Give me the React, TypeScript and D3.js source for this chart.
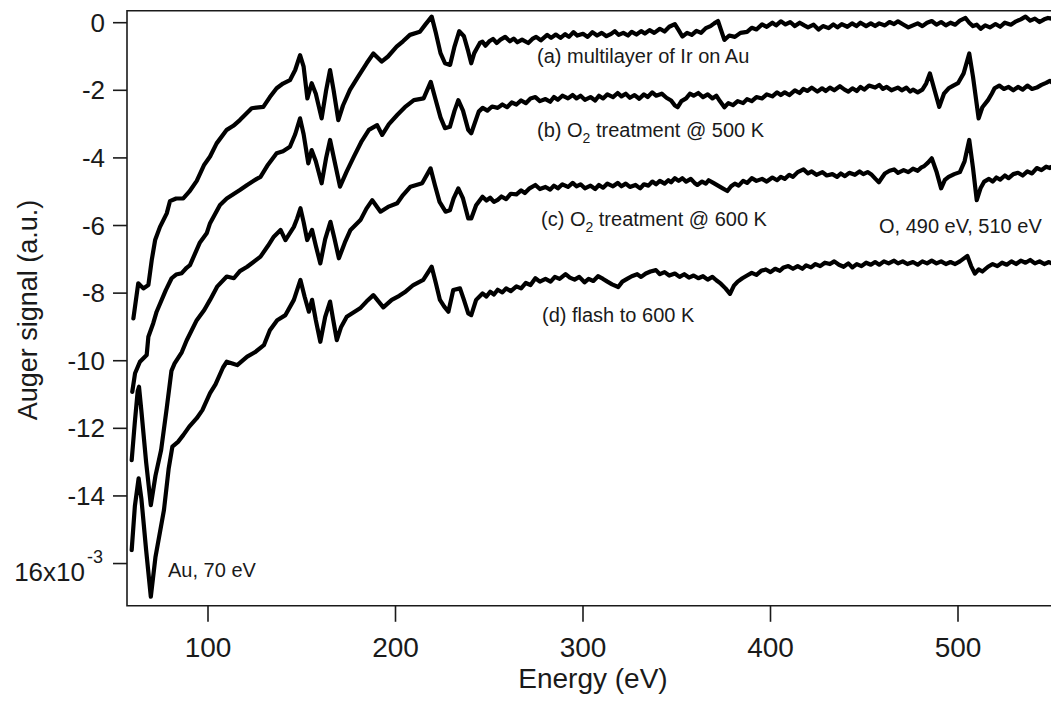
import React from 'react';
import * as d3 from 'd3';

// Auger spectra, energy (eV) vs signal (x1e-3 a.u.)
const curveA: [number, number][] = [
  [60.2,-8.75],[62.8,-7.71],[65.5,-7.86],[68.2,-7.76],[70,-7.02],[71.8,-6.43],[74.4,-6.04],[78,-5.64],[79.7,-5.28],[83,-5.2],[86.8,-5.2],[90,-5.0],[94,-4.68],[98,-4.2],[101.1,-3.96],[104.6,-3.57],[110,-3.17],[113.5,-3.05],[117,-2.88],[123.3,-2.53],[129.5,-2.49],[133,-2.2],[136.6,-1.94],[140,-1.8],[143.7,-1.7],[146.5,-1.4],[149.1,-0.96],[151,-1.3],[153,-2.24],[155.3,-1.79],[157.5,-2.1],[160.6,-2.83],[163,-2.0],[165.1,-1.4],[167,-2.0],[169.5,-2.88],[172,-2.45],[175.7,-1.99],[180,-1.6],[184.6,-1.2],[188.2,-0.91],[192.6,-1.15],[196,-1.0],[200.6,-0.71],[204,-0.55],[207.7,-0.36],[213,-0.27],[216,-0.05],[219.3,0.18],[221.5,-0.3],[224,-0.9],[226.4,-1.2],[229.1,-1.25],[231.5,-0.7],[234,-0.25],[236.5,-0.4],[238.8,-0.85],
  [240.4,-1.2],[242,-0.9],[243.5,-0.75],[245,-0.6],[246.4,-0.56],[248,-0.68],[250,-0.55],[252,-0.48],[254,-0.6],[256,-0.5],[258.5,-0.42],[261,-0.55],[263,-0.47],[265,-0.58],[267.5,-0.5],[270.8,-0.6],[273,-0.48],[275,-0.42],[277.5,-0.52],[280.9,-0.36],[283,-0.45],[285.5,-0.35],[288,-0.45],[290.5,-0.34],[292.5,-0.42],[294.9,-0.28],[297,-0.38],[300,-0.33],[302.5,-0.42],[305,-0.28],[307.5,-0.38],[310,-0.3],[312.5,-0.4],[315,-0.33],[317,-0.25],[319,-0.36],[321.5,-0.3],[324,-0.38],[326,-0.27],[328.5,-0.35],[331,-0.25],[333,-0.32],[335.5,-0.22],[338,-0.3],[341,-0.18],[343.5,-0.26],[346,-0.12],[349,-0.04],[351,-0.22],[353,-0.41],[355.5,-0.3],[358,-0.36],[360.5,-0.24],[363,-0.3],[365.5,-0.16],[368,-0.1],[370,-0.02],[372,0.05],[373.5,-0.2],[375.4,-0.51],[378,-0.38],[381,-0.42],[384,-0.3],[387.5,-0.27],[390,-0.15],[392.5,-0.2],[395.5,-0.05],[398,-0.12],[401,0.0],[403,-0.08],[405.5,0.04],[408,-0.05],[410.5,0.02],[413,-0.1],[415.6,0.0],[418,-0.08],[420,-0.14],[423,-0.06],[425.6,-0.2],[428,-0.1],[431,-0.16],[433.5,-0.05],[435.7,-0.14],[438,-0.04],[441,-0.12],[443.5,-0.02],[445.8,-0.1],[448,0.0],[451,-0.1],[453.5,-0.02],[455.8,-0.1],[458,-0.02],[461,-0.08],[463.5,0.02],[465.9,-0.04],[468,0.04],[471,-0.06],[473.5,-0.14],[476,-0.08],[478.5,-0.02],[481,-0.1],[483.5,0.0],[486,0.05],[488.5,-0.06],[491,0.02],[493.5,-0.08],[496,0.0],[498.5,-0.06],[501,0.06],[504,0.14],[506,0.0],[508,-0.1],[510,-0.06],[512.1,-0.18],[514.5,-0.08],[517,-0.14],[520,-0.04],[522.5,-0.12],[525,0.0],[528.2,-0.06],[531,0.04],[533.5,0.1],[536,0.18],[538.5,0.06],[541,0.12],[543.5,0.02],[546,0.1],[548,0.14],[550,0.12]
];

const curveB: [number, number][] = [
  [59.6,-10.92],[61.1,-10.37],[63.7,-10.03],[67.3,-9.83],[68.2,-9.29],[70.8,-8.89],[72.6,-8.55],[77.5,-7.91],[80.6,-7.56],[83,-7.45],[86,-7.41],[88.6,-7.25],[90.4,-7.17],[95.7,-6.5],[99.3,-6.23],[101.1,-5.93],[106.4,-5.39],[110,-5.2],[117,-4.95],[120.9,-4.8],[126,-4.62],[128,-4.56],[132,-4.2],[136.6,-3.86],[140,-3.8],[143.7,-3.67],[146.5,-3.3],[149.1,-2.83],[151,-3.3],[153.5,-4.16],[155.3,-3.77],[157.5,-4.1],[160.6,-4.75],[163,-4.0],[165.1,-3.47],[167.5,-4.1],[170.4,-4.85],[174,-4.4],[177.8,-3.96],[182,-3.5],[185.8,-3.17],[190.2,-3.03],[192.9,-3.32],[196.5,-3.0],[200.9,-2.73],[205,-2.5],[209.8,-2.29],[215,-2.24],[218.8,-1.75],[221,-2.2],[224,-2.8],[226.4,-3.12],[229,-3.08],[231.5,-2.6],[233.5,-2.29],[236,-2.6],[238.8,-3.17],[240.4,-3.27],
  [244.4,-2.63],[246.5,-2.52],[249,-2.6],[251.5,-2.48],[254.5,-2.52],[257,-2.42],[259.5,-2.5],[262,-2.36],[264.5,-2.42],[267,-2.3],[269.5,-2.38],[272,-2.24],[274.6,-2.2],[277,-2.32],[280,-2.26],[282.5,-2.34],[284.5,-2.2],[286.6,-2.28],[289,-2.16],[292,-2.24],[294.5,-2.14],[296.5,-2.24],[298.7,-2.16],[301,-2.28],[304,-2.2],[306.5,-2.3],[308.5,-2.16],[310.7,-2.24],[313,-2.12],[316,-2.2],[318.5,-2.08],[320.5,-2.18],[322.8,-2.1],[325,-2.22],[327.5,-2.14],[330,-2.25],[332.5,-2.12],[334.5,-2.2],[336.9,-2.06],[339,-2.16],[342,-2.1],[344.5,-2.22],[347,-2.3],[349,-2.45],[350.5,-2.5],[352.5,-2.32],[355,-2.24],[357,-2.1],[359,-2.16],[361.5,-2.08],[364,-2.2],[366.5,-2.12],[369,-2.24],[371.1,-2.16],[373,-2.32],[375.4,-2.5],[377.5,-2.38],[380,-2.44],[382.5,-2.32],[385.4,-2.38],[387.5,-2.26],[390,-2.32],[392.5,-2.2],[395.5,-2.24],[398,-2.12],[401,-2.18],[403.5,-2.06],[405.5,-2.14],[407.6,-2.06],[410,-2.14],[413,-2.0],[415.5,-2.08],[417.5,-1.96],[419.6,-2.02],[422,-1.92],[425,-2.04],[427.5,-1.94],[429.5,-2.02],[431.7,-1.92],[434,-2.0],[437,-1.88],[439.5,-1.98],[441.5,-2.04],[443.7,-1.94],[446,-2.02],[448,-1.9],[450,-1.98],[452.5,-1.86],[455.8,-1.92],[458,-1.84],[460,-1.96],[462,-1.9],[464.5,-2.0],[467.9,-1.92],[470,-2.0],[472.5,-1.92],[474.5,-2.04],[476,-1.98],[478.5,-2.06],[481,-1.98],[483,-1.8],[485,-1.5],[487.5,-2.0],[490,-2.49],[492.5,-2.1],[495,-1.94],[497.5,-1.86],[500,-1.79],[503,-1.5],[506,-0.91],[508,-1.6],[511,-2.83],[513,-2.5],[516,-2.29],[518,-2.1],[519.5,-1.94],[522,-1.86],[524.5,-1.96],[527,-1.9],[529.5,-2.0],[532,-1.9],[534.5,-1.98],[537,-1.86],[539.5,-1.96],[542,-1.92],[544.5,-1.84],[547,-1.78],[549,-1.72],[550,-1.76]
];

const curveC: [number, number][] = [
  [59.3,-12.94],[61,-11.8],[62.5,-10.9],[63.2,-10.77],[64.5,-11.5],[67,-13.0],[69.5,-14.27],[72,-13.4],[75,-12.64],[78,-11.4],[80.5,-10.3],[82.2,-10.08],[86,-9.75],[88.6,-9.4],[94,-8.8],[98,-8.5],[101.1,-8.2],[105,-7.8],[110,-7.51],[113.8,-7.56],[117,-7.35],[120.9,-7.22],[128,-6.92],[132,-6.6],[135.1,-6.33],[138.7,-6.13],[141.3,-6.43],[145.8,-6.04],[147.5,-5.8],[149.3,-5.49],[151,-5.9],[152.9,-6.43],[155.5,-6.13],[157.5,-6.6],[159.9,-7.12],[162.5,-6.4],[165.3,-5.89],[167.5,-6.4],[169.8,-6.97],[173,-6.5],[176,-6.13],[181.3,-5.84],[184.5,-5.5],[187.6,-5.25],[192,-5.59],[196,-5.45],[200.9,-5.34],[204,-5.1],[208,-4.85],[214.2,-4.75],[218.7,-4.31],[221,-4.8],[223.5,-5.3],[226.7,-5.59],[229,-5.55],[231,-5.2],[233.5,-4.9],[236,-5.2],[238.8,-5.79],[240.4,-5.79],
  [243,-5.4],[246.4,-5.15],[248.5,-5.26],[250.5,-5.18],[252.5,-5.3],[254.5,-5.24],[256.5,-5.14],[259,-5.22],[261.5,-5.06],[264.5,-5.08],[267,-4.96],[269,-5.04],[271.5,-4.9],[274.6,-4.8],[277,-4.92],[280,-4.86],[282.5,-4.94],[284.5,-4.82],[286.6,-4.9],[289,-4.78],[292,-4.86],[294.5,-4.74],[296.5,-4.84],[298.7,-4.78],[301,-4.9],[304,-4.82],[306.5,-4.92],[308.5,-4.8],[310.7,-4.88],[313,-4.76],[316,-4.84],[318.5,-4.74],[320.5,-4.84],[322.8,-4.76],[325,-4.86],[328,-4.8],[330.5,-4.9],[332.5,-4.78],[334.9,-4.82],[337,-4.7],[339,-4.78],[341,-4.68],[343.5,-4.76],[345.5,-4.66],[347,-4.72],[349,-4.6],[351,-4.68],[353,-4.6],[355,-4.7],[357.5,-4.62],[359.5,-4.74],[361,-4.8],[363.5,-4.7],[365.5,-4.76],[367,-4.66],[369.5,-4.74],[372,-4.82],[374.5,-4.9],[377,-4.98],[379,-4.84],[381,-4.76],[383,-4.82],[385.4,-4.68],[387.5,-4.74],[390,-4.6],[392.5,-4.68],[395.5,-4.62],[398,-4.7],[401,-4.58],[403.5,-4.66],[405.5,-4.56],[407.6,-4.62],[410,-4.5],[412,-4.56],[414.5,-4.42],[417.6,-4.34],[420,-4.46],[422,-4.4],[424.5,-4.5],[427.7,-4.42],[430,-4.52],[433,-4.48],[435.5,-4.56],[437.5,-4.46],[439.7,-4.54],[442,-4.44],[445,-4.5],[447.5,-4.4],[449.5,-4.48],[451.8,-4.42],[454,-4.5],[456,-4.62],[457.8,-4.72],[459.5,-4.58],[461,-4.46],[463.5,-4.38],[465.9,-4.34],[468,-4.44],[471,-4.36],[473.5,-4.42],[476,-4.32],[478.5,-4.38],[480.5,-4.28],[482,-4.24],[484,-4.14],[486,-4.01],[488.5,-4.4],[491,-4.9],[493,-4.65],[495,-4.56],[498,-4.48],[501,-4.42],[503.5,-4.1],[506,-3.47],[508,-4.3],[510,-5.25],[512,-4.9],[514,-4.7],[516.5,-4.62],[518.5,-4.7],[520.5,-4.58],[522.5,-4.64],[525,-4.52],[527,-4.6],[529.5,-4.48],[532,-4.44],[534.5,-4.52],[537,-4.4],[539.5,-4.46],[542,-4.3],[544.5,-4.36],[547,-4.26],[549,-4.3],[550,-4.26]
];

const curveD: [number, number][] = [
  [59.3,-15.6],[61,-14.3],[63,-13.48],[64.5,-14.1],[67,-15.6],[69.5,-16.98],[72,-15.8],[76.5,-14.42],[79,-13.2],[81,-12.54],[84,-12.4],[86.8,-12.2],[90,-11.95],[94,-11.7],[97,-11.46],[101.1,-10.96],[104,-10.7],[108,-10.2],[110,-10.03],[113,-10.08],[115.6,-10.13],[120.9,-9.88],[125,-9.75],[129.8,-9.54],[133,-9.1],[136.9,-8.8],[141.3,-8.65],[145.8,-8.2],[149.3,-7.61],[151.5,-8.1],[153.8,-8.55],[155.5,-8.2],[157.5,-8.8],[159.9,-9.44],[162.5,-8.7],[165.1,-8.25],[166.8,-8.8],[168.7,-9.39],[171,-9.0],[174,-8.7],[181.1,-8.45],[184.5,-8.25],[188.2,-8.06],[193.5,-8.42],[198,-8.2],[202,-8.08],[205.5,-7.95],[209.5,-7.76],[214.8,-7.61],[219.3,-7.22],[221.5,-7.7],[223.7,-8.2],[226,-8.4],[228.2,-8.55],[230.8,-7.91],[234.4,-7.86],[236.5,-8.2],[238.8,-8.6],[240.4,-8.65],
  [243,-8.2],[246.4,-8.01],[248.5,-8.1],[250.5,-7.96],[252.5,-8.04],[254.5,-7.9],[257,-7.98],[259,-7.86],[261.5,-7.94],[264.5,-7.8],[267,-7.86],[269.5,-7.7],[272,-7.76],[274.6,-7.56],[277,-7.66],[280,-7.58],[282.7,-7.66],[285,-7.52],[287.5,-7.58],[290.7,-7.44],[293,-7.54],[295.5,-7.6],[298,-7.52],[300.8,-7.68],[303,-7.58],[305.5,-7.64],[308,-7.5],[310.7,-7.58],[313,-7.66],[315.5,-7.74],[318.8,-7.82],[321,-7.66],[323.5,-7.58],[326,-7.5],[328.9,-7.44],[331,-7.52],[333.5,-7.42],[336,-7.36],[338.9,-7.32],[341,-7.44],[343.5,-7.38],[346,-7.48],[349,-7.42],[351.5,-7.52],[354,-7.44],[356.5,-7.54],[359,-7.48],[361.5,-7.56],[364,-7.5],[366.5,-7.6],[369,-7.52],[371.1,-7.62],[373.5,-7.72],[376,-7.86],[378.4,-8.02],[380.5,-7.78],[382.5,-7.66],[385,-7.56],[387.5,-7.48],[390,-7.4],[392.5,-7.46],[395,-7.34],[397.5,-7.3],[400,-7.38],[402.5,-7.28],[405,-7.34],[407,-7.24],[409.5,-7.2],[412,-7.28],[414.5,-7.2],[417,-7.28],[419,-7.18],[421.6,-7.24],[424,-7.14],[426.5,-7.2],[429,-7.1],[431.7,-7.14],[434,-7.06],[436.5,-7.16],[439,-7.22],[441.5,-7.12],[443.7,-7.24],[446,-7.14],[448.5,-7.2],[451,-7.1],[453.5,-7.16],[455.8,-7.08],[458,-7.16],[460.5,-7.06],[463,-7.12],[465.9,-7.04],[468,-7.12],[470.5,-7.06],[473,-7.14],[476,-7.08],[478.5,-7.16],[481,-7.06],[483.5,-7.12],[486,-7.04],[488.5,-7.12],[491,-7.06],[493.5,-7.14],[496,-7.08],[498.5,-7.14],[501,-7.06],[503,-6.98],[505,-6.9],[507,-7.2],[509,-7.42],[511,-7.3],[513,-7.36],[516,-7.22],[518.5,-7.14],[521,-7.2],[523.5,-7.1],[526,-7.16],[528.5,-7.06],[531,-7.14],[533.5,-7.04],[536,-7.1],[538.5,-7.02],[541,-7.12],[543.5,-7.06],[546,-7.14],[548.5,-7.08],[550,-7.12]
];

const curves = [curveA, curveB, curveC, curveD];

const xTicks = [100, 200, 300, 400, 500];
const yTicks = [0, -2, -4, -6, -8, -10, -12, -14, -16];

const WIDTH = 1051;
const HEIGHT = 702;
const FONT = '"Liberation Sans", Arial, sans-serif';
const INK = '#1a1a1a';

const App = () => {
  const x = d3.scaleLinear().domain([56.8, 556.8]).range([127, 1064.5]);
  const y = d3.scaleLinear().domain([0.355, -17.25]).range([10.7, 605.8]);

  const line = d3
    .line<[number, number]>()
    .x((d) => x(d[0]))
    .y((d) => y(d[1]));

  const left = x.range()[0];
  const top = y.range()[0];
  const bottom = y.range()[1];

  return (
    <svg
      width={WIDTH}
      height={HEIGHT}
      style={{ position: 'absolute', left: 0, top: 0, background: '#fff' }}
      fontFamily={FONT}
    >
      <rect x={0} y={0} width={WIDTH} height={HEIGHT} fill="#fff" />

      {/* frame */}
      <path
        d={`M${WIDTH + 2},${top}H${left}V${bottom}H${WIDTH + 2}`}
        fill="none"
        stroke={INK}
        strokeWidth={1.6}
      />

      {/* y axis ticks */}
      {yTicks.map((t) => (
        <g key={t} transform={`translate(0,${y(t)})`}>
          <line x1={left - 14} x2={left} stroke={INK} strokeWidth={1.6} />
          {t === -16 ? (
            <text x={85} y={17} textAnchor="end" fontSize={26} fill={INK}>
              16x10
              <tspan x={87} y={-1} textAnchor="start" fontSize={18}>-3</tspan>
            </text>
          ) : (
            <text x={105} y={9} textAnchor="end" fontSize={26} fill={INK}>
              {t}
            </text>
          )}
        </g>
      ))}

      {/* x axis ticks */}
      {xTicks.map((t) => (
        <g key={t} transform={`translate(${x(t)},0)`}>
          <line y1={bottom} y2={bottom + 16} stroke={INK} strokeWidth={1.6} />
          <text y={657} textAnchor="middle" fontSize={28} fill={INK}>
            {t}
          </text>
        </g>
      ))}

      <text x={593} y={688} textAnchor="middle" fontSize={28} fill={INK}>
        Energy (eV)
      </text>
      <text
        transform="translate(37,310) rotate(-90)"
        textAnchor="middle"
        fontSize={27}
        fill={INK}
      >
        Auger signal (a.u.)
      </text>

      {/* spectra */}
      {curves.map((c, i) => (
        <path
          key={i}
          d={line(c) || ''}
          fill="none"
          stroke="#000"
          strokeWidth={4.2}
          strokeLinejoin="round"
          strokeLinecap="round"
        />
      ))}

      {/* annotations */}
      <g fontSize={20} fill={INK}>
        <text x={537} y={63}>(a) multilayer of Ir on Au</text>
        <text x={537} y={137}>
          (b) O<tspan fontSize={14} dy={6}>2</tspan>
          <tspan dy={-6}> treatment @ 500 K</tspan>
        </text>
        <text x={541} y={226}>
          (c) O<tspan fontSize={14} dy={6}>2</tspan>
          <tspan dy={-6}> treatment @ 600 K</tspan>
        </text>
        <text x={879} y={233}>O, 490 eV, 510 eV</text>
        <text x={542} y={322}>(d) flash to 600 K</text>
        <text x={168} y={577}>Au, 70 eV</text>
      </g>
    </svg>
  );
};

export default App;
